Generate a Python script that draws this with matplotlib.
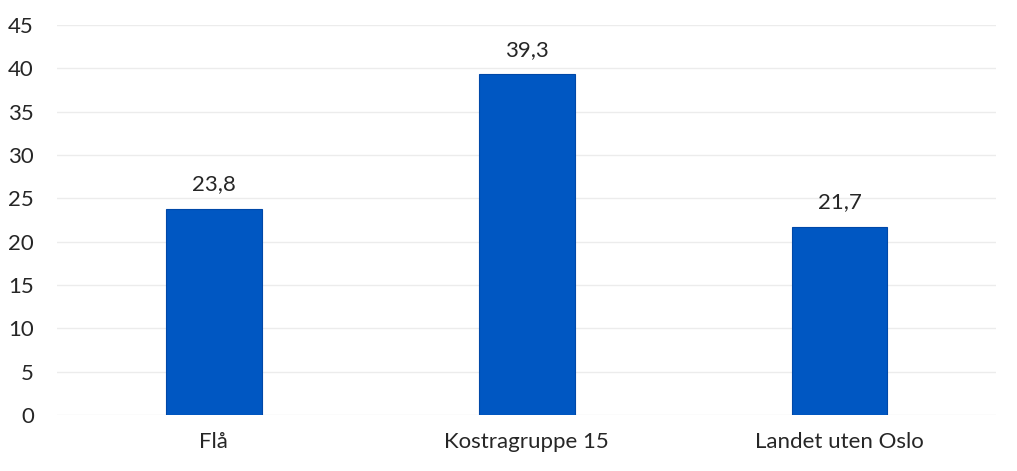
import matplotlib
matplotlib.use("Agg")
import matplotlib.pyplot as plt

categories = ["Flå", "Kostragruppe 15", "Landet uten Oslo"]
values = [23.8, 39.3, 21.7]
value_labels = ["23,8", "39,3", "21,7"]
yticks = [0, 5, 10, 15, 20, 25, 30, 35, 40, 45]

plt.rcParams['font.family'] = ['Lato', 'DejaVu Sans']

fig = plt.figure(figsize=(10.17, 4.71), dpi=100)
ax = fig.add_axes([0.0565, 0.119, 0.923, 0.828])

x = range(len(categories))
ax.bar(x, values, width=0.305, color="#0057C2", edgecolor="#0048A8", linewidth=0.8, zorder=3)
for xi, v, lab in zip(x, values, value_labels):
    ax.text(xi, v + 1.7, lab, ha="center", va="bottom", fontsize=16, color="#262626")

ax.set_ylim(0, 45)
ax.set_xlim(-0.5, 2.5)
ax.set_yticks(yticks)
ax.set_xticks(list(x))
ax.set_xticklabels(categories)
ax.tick_params(axis="both", length=0, labelsize=16, colors="#262626")
ax.tick_params(axis="y", pad=17)
ax.tick_params(axis="x", pad=12)
ax.yaxis.grid(True, color="#ECECEC", linewidth=1.0, zorder=0)
for s in ax.spines.values():
    s.set_visible(False)

fig.savefig("out.png", dpi=100, facecolor="white")
